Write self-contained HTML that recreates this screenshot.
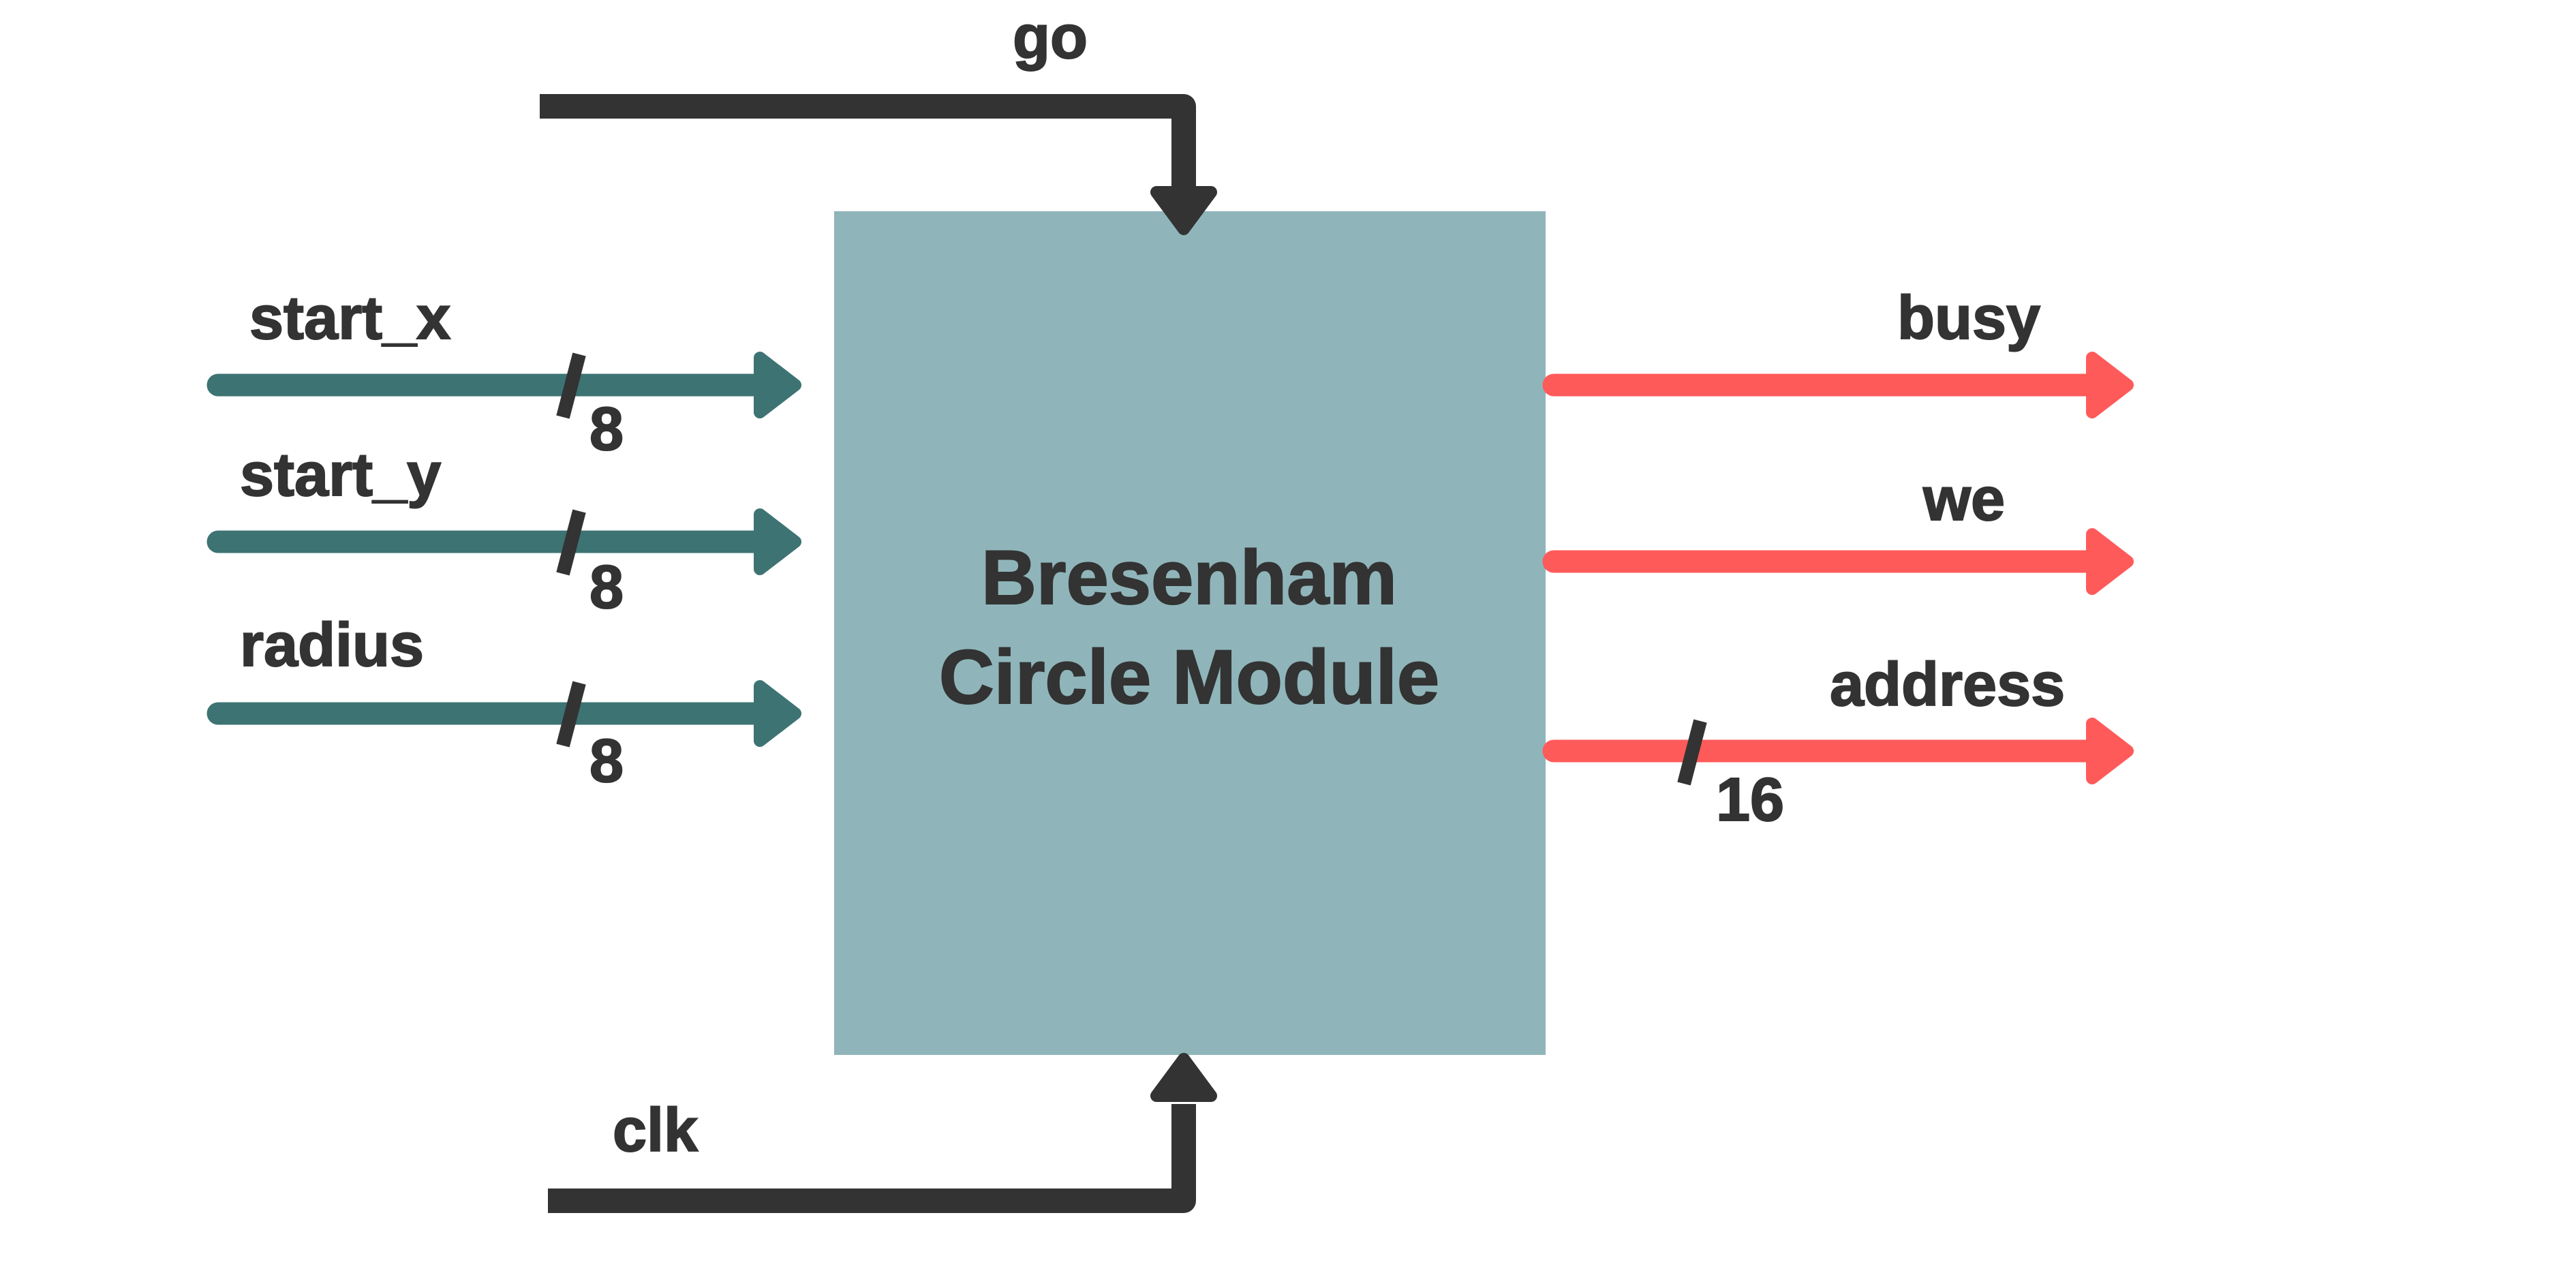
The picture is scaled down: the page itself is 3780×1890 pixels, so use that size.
<!DOCTYPE html>
<html><head><style>body{margin:0;background:#fff}svg{display:block}text{font-family:"Liberation Sans",sans-serif;font-weight:bold;fill:#333;stroke:#333;stroke-width:2}</style></head>
<body>
<svg width="3780" height="1890" viewBox="0 0 3780 1890">
<rect x="1224" y="310" width="1044" height="1238" fill="#8fb5ba"/>
<g stroke-linejoin="round">
<path d="M792 156 H1737 V290" fill="none" stroke="#333" stroke-width="36"/>
<path d="M1697 282 H1777 L1737 336 Z" fill="#333" stroke="#333" stroke-width="18"/>
<path d="M804 1762 H1737 V1620" fill="none" stroke="#333" stroke-width="36"/>
<path d="M1697 1608 H1777 L1737 1554 Z" fill="#333" stroke="#333" stroke-width="18"/>
<g stroke="#3d7373" fill="#3d7373">
<line x1="320" y1="565" x2="1115" y2="565" stroke-width="33" stroke-linecap="round"/>
<path d="M1115 525 V605 L1167 565 Z" stroke-width="18"/>
<line x1="320" y1="795" x2="1115" y2="795" stroke-width="33" stroke-linecap="round"/>
<path d="M1115 755 V835 L1167 795 Z" stroke-width="18"/>
<line x1="320" y1="1047" x2="1115" y2="1047" stroke-width="33" stroke-linecap="round"/>
<path d="M1115 1007 V1087 L1167 1047 Z" stroke-width="18"/>
</g>
<g stroke="#ff5a5a" fill="#ff5a5a">
<line x1="2280" y1="565" x2="3070" y2="565" stroke-width="33" stroke-linecap="round"/>
<path d="M3070 525 V605 L3122 565 Z" stroke-width="18"/>
<line x1="2280" y1="824" x2="3070" y2="824" stroke-width="33" stroke-linecap="round"/>
<path d="M3070 784 V864 L3122 824 Z" stroke-width="18"/>
<line x1="2280" y1="1102" x2="3070" y2="1102" stroke-width="33" stroke-linecap="round"/>
<path d="M3070 1062 V1142 L3122 1102 Z" stroke-width="18"/>
</g>
</g>
<g stroke="#333" stroke-width="20">
<line x1="850" y1="520" x2="826" y2="612"/>
<line x1="850" y1="750" x2="826" y2="842"/>
<line x1="850" y1="1002" x2="826" y2="1094"/>
<line x1="2495" y1="1058" x2="2471" y2="1150"/>
</g>
<g font-size="90">
<text x="1486" y="85">go</text>
<text x="366" y="497">start_x</text>
<text x="352" y="727">start_y</text>
<text x="352" y="977">radius</text>
<text x="865" y="660">8</text>
<text x="865" y="892">8</text>
<text x="865" y="1147">8</text>
<text x="2784" y="497">busy</text>
<text x="2822" y="763">we</text>
<text x="2685" y="1035">address</text>
<text x="2518" y="1204">16</text>
<text x="899" y="1689">clk</text>
</g>
<g font-size="112" text-anchor="middle">
<text x="1745" y="886">Bresenham</text>
<text x="1745" y="1032">Circle Module</text>
</g>
</svg>
</body></html>
